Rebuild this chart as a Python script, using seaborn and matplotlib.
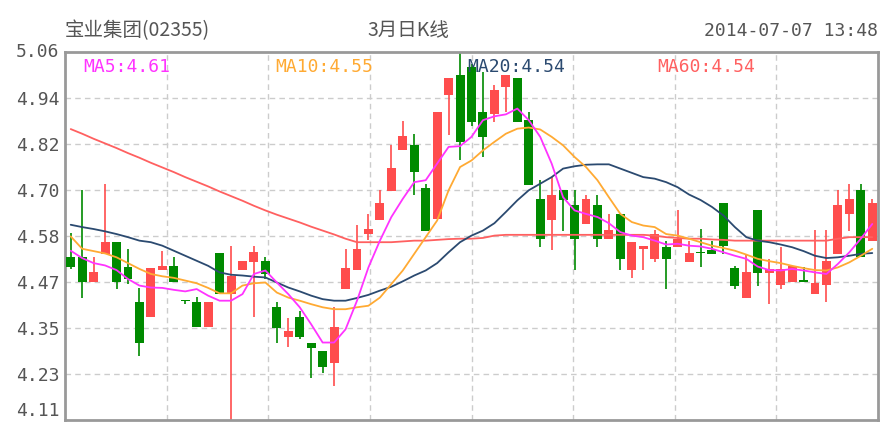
import numpy as np
import pandas as pd
import matplotlib
matplotlib.use("Agg")
import matplotlib.pyplot as plt
import seaborn as sns

# ---- data (daily K-line, 71 sessions) ----
opens = [4.530, 4.530, 4.465, 4.539, 4.569, 4.504, 4.414, 4.376, 4.497, 4.507,
         4.418, 4.414, 4.349, 4.540, 4.435, 4.497, 4.517, 4.520, 4.403, 4.325,
         4.375, 4.310, 4.288, 4.258, 4.448, 4.497, 4.589, 4.627, 4.700, 4.806,
         4.821, 4.709, 4.628, 4.949, 5.000, 5.022, 4.905, 4.901, 4.970, 4.994,
         4.884, 4.681, 4.627, 4.703, 4.666, 4.616, 4.664, 4.578, 4.642, 4.497,
         4.552, 4.526, 4.556, 4.556, 4.517, 4.543, 4.549, 4.670, 4.502, 4.426,
         4.653, 4.490, 4.458, 4.465, 4.468, 4.435, 4.458, 4.539, 4.641, 4.703,
         4.573]
closes = [4.504, 4.465, 4.491, 4.569, 4.465, 4.474, 4.310, 4.502, 4.507, 4.465,
          4.416, 4.349, 4.414, 4.435, 4.483, 4.520, 4.543, 4.487, 4.347, 4.339,
          4.325, 4.297, 4.247, 4.351, 4.502, 4.552, 4.602, 4.670, 4.760, 4.842,
          4.750, 4.599, 4.905, 4.994, 4.828, 4.880, 4.841, 4.963, 5.000, 4.880,
          4.716, 4.578, 4.692, 4.677, 4.578, 4.681, 4.578, 4.601, 4.526, 4.569,
          4.559, 4.590, 4.526, 4.578, 4.540, 4.540, 4.539, 4.560, 4.457, 4.491,
          4.489, 4.500, 4.500, 4.508, 4.467, 4.463, 4.520, 4.664, 4.681, 4.530,
          4.670]
highs = [4.592, 4.704, 4.530, 4.720, 4.569, 4.552, 4.452, 4.502, 4.547, 4.530,
         4.418, 4.428, 4.414, 4.540, 4.558, 4.520, 4.558, 4.530, 4.414, 4.373,
         4.392, 4.310, 4.288, 4.401, 4.552, 4.614, 4.641, 4.703, 4.821, 4.882,
         4.848, 4.718, 4.905, 4.994, 5.060, 5.030, 5.009, 4.975, 5.000, 4.994,
         4.905, 4.730, 4.737, 4.703, 4.703, 4.692, 4.692, 4.641, 4.642, 4.569,
         4.559, 4.601, 4.573, 4.653, 4.573, 4.603, 4.573, 4.670, 4.508, 4.539,
         4.653, 4.526, 4.556, 4.508, 4.504, 4.601, 4.601, 4.703, 4.720, 4.720,
         4.681]
lows = [4.500, 4.426, 4.465, 4.539, 4.448, 4.461, 4.275, 4.376, 4.497, 4.465,
        4.409, 4.349, 4.349, 4.435, 4.110, 4.497, 4.375, 4.474, 4.310, 4.299,
        4.320, 4.219, 4.232, 4.198, 4.448, 4.497, 4.575, 4.627, 4.700, 4.806,
        4.690, 4.599, 4.628, 4.845, 4.780, 4.870, 4.789, 4.880, 4.905, 4.880,
        4.716, 4.556, 4.549, 4.599, 4.497, 4.616, 4.556, 4.578, 4.497, 4.476,
        4.497, 4.517, 4.448, 4.556, 4.517, 4.504, 4.539, 4.539, 4.448, 4.426,
        4.457, 4.409, 4.448, 4.465, 4.467, 4.435, 4.414, 4.539, 4.599, 4.530,
        4.573]

ma5 = [4.547, 4.528, 4.515, 4.509, 4.497, 4.474, 4.457, 4.452, 4.451, 4.446,
       4.442, 4.448, 4.431, 4.418, 4.418, 4.435, 4.487, 4.496, 4.465, 4.435,
       4.401, 4.357, 4.310, 4.310, 4.344, 4.418, 4.504, 4.573, 4.634, 4.681,
       4.724, 4.729, 4.772, 4.815, 4.817, 4.841, 4.884, 4.894, 4.899, 4.914,
       4.884, 4.841, 4.772, 4.685, 4.651, 4.642, 4.634, 4.618, 4.595, 4.586,
       4.582, 4.573, 4.563, 4.565, 4.560, 4.558, 4.552, 4.543, 4.534, 4.526,
       4.506, 4.497, 4.496, 4.500, 4.496, 4.491, 4.487, 4.513, 4.543, 4.578,
       4.616]
ma10 = [4.584, 4.552, 4.546, 4.540, 4.530, 4.515, 4.500, 4.487, 4.481, 4.477,
        4.470, 4.463, 4.451, 4.437, 4.437, 4.457, 4.463, 4.465, 4.439, 4.426,
        4.418, 4.409, 4.401, 4.396, 4.396, 4.401, 4.405, 4.426, 4.461, 4.496,
        4.539, 4.582, 4.625, 4.703, 4.763, 4.780, 4.806, 4.828, 4.849, 4.862,
        4.865, 4.860, 4.841, 4.819, 4.789, 4.763, 4.729, 4.685, 4.642, 4.621,
        4.612, 4.608, 4.590, 4.586, 4.578, 4.569, 4.560, 4.554, 4.547, 4.537,
        4.526, 4.520, 4.515, 4.508, 4.502, 4.497, 4.496, 4.504, 4.517, 4.534,
        4.552]
ma20 = [4.614, 4.608, 4.603, 4.597, 4.590, 4.582, 4.573, 4.569, 4.560, 4.547,
        4.534, 4.521, 4.508, 4.491, 4.485, 4.483, 4.480, 4.478, 4.465, 4.452,
        4.442, 4.431, 4.422, 4.418, 4.418, 4.425, 4.433, 4.444, 4.454, 4.468,
        4.483, 4.496, 4.515, 4.543, 4.569, 4.586, 4.599, 4.618, 4.647, 4.677,
        4.703, 4.720, 4.737, 4.759, 4.765, 4.769, 4.770, 4.770, 4.759, 4.748,
        4.737, 4.733, 4.724, 4.711, 4.692, 4.678, 4.660, 4.638, 4.608, 4.582,
        4.573, 4.569, 4.563, 4.556, 4.546, 4.534, 4.528, 4.530, 4.534, 4.539,
        4.541]
ma60 = [4.861, 4.849, 4.836, 4.824, 4.812, 4.799, 4.787, 4.774, 4.762, 4.750,
        4.737, 4.725, 4.713, 4.700, 4.688, 4.676, 4.663, 4.651, 4.640, 4.630,
        4.620, 4.609, 4.599, 4.589, 4.578, 4.569, 4.569, 4.569, 4.569, 4.571,
        4.573, 4.573, 4.575, 4.577, 4.578, 4.578, 4.580, 4.586, 4.588, 4.588,
        4.588, 4.588, 4.588, 4.588, 4.588, 4.588, 4.588, 4.588, 4.588, 4.588,
        4.588, 4.586, 4.582, 4.580, 4.578, 4.578, 4.576, 4.575, 4.573, 4.573,
        4.573, 4.573, 4.573, 4.573, 4.573, 4.573, 4.573, 4.578, 4.582, 4.582,
        4.582]

ytick_labels = ["4.11", "4.23", "4.35", "4.47", "4.58", "4.70", "4.82", "4.94", "5.06"]
y_min, y_max = 4.11, 5.06
title_left = "宝业集团(02355)"
title_mid = "3月日K线"
title_right = "2014-07-07 13:48"
ma_labels = ["MA5:4.61", "MA10:4.55", "MA20:4.54", "MA60:4.54"]

# ---- styling ----
sns.set_style("white")
plt.rcParams['font.family'] = ['Noto Sans CJK SC', 'DejaVu Sans']

RED = "#ff4d4d"
GREEN = "#008a00"
C_MA5 = "#ff33ff"
C_MA10 = "#ffaa33"
C_MA20 = "#2b4a70"
C_MA60 = "#ff6060"

n = len(opens)
df = pd.DataFrame({"day": np.arange(n), "open": opens, "close": closes,
                   "high": highs, "low": lows,
                   "MA5": ma5, "MA10": ma10, "MA20": ma20, "MA60": ma60})
df["up"] = df["close"] >= df["open"]

fig = plt.figure(figsize=(8.81, 4.24), dpi=100)
ax = fig.add_axes([65 / 881, 4 / 424, 813 / 881, 368 / 424])

ax.set_xlim(-0.5, n - 0.5)
ax.set_ylim(y_min, y_max)

# grid
yt = np.linspace(y_min, y_max, 9)
for v in yt[1:-1]:
    ax.axhline(v, color="#cccccc", lw=1.0, ls=(0, (4, 3)), zorder=0)
xt = np.linspace(-0.5, n - 0.5, 9)
for v in xt[1:-1]:
    ax.axvline(v, color="#cccccc", lw=1.0, ls=(0, (4, 3)), zorder=0)

# candles
colors = np.where(df["up"], RED, GREEN)
ax.vlines(df["day"], df["low"], df["high"], colors=colors, lw=1.2, zorder=2)
body_bottom = np.minimum(df["open"], df["close"])
body_h = np.maximum(np.abs(df["close"] - df["open"]), 0.004)
ax.bar(df["day"], body_h, bottom=body_bottom, width=0.78, color=colors,
       edgecolor="none", zorder=3)

# moving averages
for col, c in [("MA60", C_MA60), ("MA20", C_MA20), ("MA10", C_MA10), ("MA5", C_MA5)]:
    sns.lineplot(data=df, x="day", y=col, color=c, lw=1.3, ax=ax, zorder=4)

ax.set_xlabel("")
ax.set_ylabel("")
ax.set_xticks([])
ax.set_yticks(yt)
ax.set_yticklabels(ytick_labels, family="DejaVu Sans Mono", fontsize=13,
                   color="#555555")
ax.tick_params(axis="y", length=0, pad=4)
# keep the lowest label fully inside the figure
ax.get_yticklabels()[0].set_va("bottom")
ax.get_yticklabels()[-1].set_va("center")
for s in ax.spines.values():
    s.set_color("#999999")
    s.set_linewidth(2)

# MA legend texts
ma_x = [83, 275, 467, 657]
for lbl, xpx, c in zip(ma_labels, ma_x, [C_MA5, C_MA10, C_MA20, C_MA60]):
    fig.text(xpx / 881, 1 - 67 / 424, lbl, color=c, fontsize=13,
             family="DejaVu Sans Mono", va="center", ha="left")

# titles
fig.text(65 / 881, 1 - 31 / 424, title_left, fontsize=14, color="#555555",
         va="center", ha="left")
fig.text(408 / 881, 1 - 31 / 424, title_mid, fontsize=14, color="#555555",
         va="center", ha="center")
fig.text(878 / 881, 1 - 31 / 424, title_right, fontsize=13, color="#555555",
         family="DejaVu Sans Mono", va="center", ha="right")

fig.savefig("out.png", dpi=100, facecolor="white")
